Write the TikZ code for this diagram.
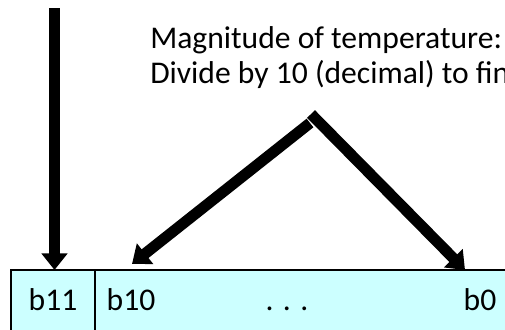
\documentclass[tikz,border=0pt]{standalone}
\usepackage{fontspec}
\setmainfont{Carlito}
\usepackage{tikz}
\usetikzlibrary{arrows.meta}
\definecolor{cellcyan}{RGB}{204,255,255}

\begin{document}
\begin{tikzpicture}[x=0.75pt, y=-0.75pt,
  bigarrow/.style={line width=8.25pt, -{Triangle[length=12.5pt, width=19pt]}},
  cellbox/.style={draw=black, line width=0.9pt, fill=cellcyan},
  txt/.style={anchor=base, inner sep=0pt, font=\fontsize{23.7}{28}\selectfont}]
  \useasboundingbox (0,0) rectangle (505,329);
  \clip (0,0) rectangle (505,329);

  % Register cells
  \draw[cellbox] (11,270) rectangle (95,345);
  \draw[cellbox] (95,270) rectangle (530,345);
  \node[txt] (b11) at (53,310) {b11};
  \node[txt] (b10) at (131,310) {b10};
  \node[txt] (dots) at (287,310) {. . .};
  \node[txt] (b0) at (480,310) {b0};

  % Caption
  \node[txt, anchor=base west] (magline) at (150,48) {Magnitude of temperature:};
  \node[txt, anchor=base west] (divline) at (150,83) {Divide by 10 (decimal) to find};

  % Arrows
  \coordinate (signtop) at (54.5,8);
  \coordinate (signtip) at (54.5,270);
  \coordinate (apexR) at (311,114);
  \coordinate (apexL) at (310,123);
  \coordinate (lowtip) at (132,264);
  \coordinate (hightip) at (465,270);
  \draw[bigarrow] (signtop) -- (signtip);
  \draw[bigarrow] (apexR) -- (hightip);
  \draw[bigarrow] (apexL) -- (lowtip);
\end{tikzpicture}
\end{document}
